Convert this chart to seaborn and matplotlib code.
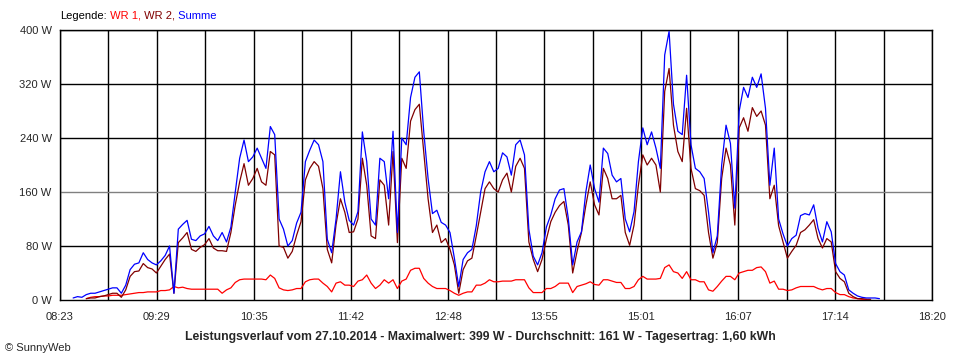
import numpy as np
import pandas as pd
import matplotlib
matplotlib.use("Agg")
import matplotlib.pyplot as plt
import seaborn as sns

# Messwerte im 3-Minuten-Raster, Minuten seit 08:23
minutes = np.arange(9, 562, 3)

summe = [3, 5, 4, 8, 10, 10, 12, 14, 16, 18, 18, 10, 22, 45, 53, 55, 70, 60, 55, 52,
         58, 66, 80, 10, 105, 112, 118, 90, 88, 95, 98,
         109, 95, 88, 100, 86, 108, 160, 210, 237, 205, 212, 225, 210, 195, 257, 245, 120, 105, 80, 88,
         114, 130, 205, 222, 237, 230, 205, 90, 70, 120, 190, 145, 118,
         111, 131, 249, 205, 120, 111, 210, 205, 150, 250, 100, 240, 230, 300, 330, 338, 250, 180, 128, 133,
         115, 111, 100, 62, 20, 60, 70, 75, 110, 160, 190, 205, 190,
         195, 218, 212, 185, 230, 237, 215, 105, 65, 52, 70, 108, 126, 150, 163, 165, 121, 52, 86, 101,
         160, 200, 165, 145, 225, 217, 185, 175, 180, 120, 101, 131, 205,
         255, 230, 249, 225, 195, 363, 398, 290, 250, 245, 333, 230, 195, 190, 180, 130, 70, 95, 200, 259,
         232, 136, 280, 315, 300, 330, 315, 335, 284, 170, 225, 120, 98,
         80, 91, 96, 125, 128, 126, 141, 106, 86, 116, 101, 54, 42, 37, 15, 10, 6, 4, 3, 3,
         3, 2]

wr2 = [np.nan, np.nan, np.nan, 2, 3, 3, 5, 6, 8, 10, 10, 4, 15, 35, 42, 43, 54, 48, 46, 40,
       50, 60, 68, 10, 85, 92, 100, 75, 72, 78, 82,
       91, 77, 73, 73, 72, 100, 141, 175, 202, 170, 180, 195, 175, 170, 220, 215, 80, 78, 62, 72,
       96, 116, 178, 195, 205, 198, 165, 75, 55, 112, 150, 130, 100,
       101, 120, 210, 170, 95, 91, 178, 170, 111, 220, 85, 210, 195, 265, 282, 290, 220, 150, 100, 111,
       85, 91, 75, 52, 10, 45, 58, 62, 95, 130, 165, 175, 165,
       160, 178, 188, 160, 198, 210, 195, 86, 60, 42, 60, 90, 116, 130, 140, 146, 111, 40, 72, 100,
       140, 175, 141, 126, 195, 180, 150, 150, 155, 100, 81, 111, 170,
       215, 200, 210, 200, 160, 309, 343, 259, 220, 205, 284, 195, 165, 162, 155, 100, 62, 85, 180, 225,
       200, 111, 255, 270, 250, 285, 272, 280, 259, 150, 170, 110, 86,
       62, 72, 81, 100, 104, 111, 119, 91, 77, 91, 86, 42, 32, 27, 10, 5, 2, 2, 1, 1,
       np.nan, np.nan]

wr1 = [np.nan, np.nan, np.nan, 2, 4, 5, 5, 6, 6, 7, 7, 7, 8, 9, 10, 11, 11, 12, 12, 12,
       14, 14, 15, 20, 18, 19, 17, 16, 16, 16, 16,
       16, 16, 16, 10, 15, 18, 26, 30, 31, 31, 31, 31, 31, 30, 37, 32, 18, 15, 14, 15,
       17, 17, 27, 30, 31, 31, 25, 20, 12, 25, 27, 22, 22,
       20, 28, 30, 37, 25, 17, 22, 30, 25, 30, 17, 28, 31, 44, 47, 47, 32, 25, 20, 17,
       17, 17, 14, 10, 7, 10, 12, 12, 22, 22, 25, 30, 27,
       27, 28, 28, 28, 30, 30, 30, 18, 11, 11, 11, 17, 17, 20, 25, 25, 25, 11, 20, 22,
       24, 27, 23, 22, 30, 30, 28, 26, 26, 17, 17, 20, 30,
       35, 31, 31, 31, 32, 48, 52, 42, 40, 32, 42, 30, 30, 27, 27, 15, 13, 20, 28, 35,
       35, 30, 40, 42, 44, 44, 48, 49, 42, 25, 28, 16, 16,
       14, 15, 18, 20, 20, 20, 20, 17, 15, 17, 17, 11, 8, 8, 5, 3, 2, 1, 1, np.nan,
       np.nan, np.nan]

x_labels = ["08:23", "09:29", "10:35", "11:42", "12:48", "13:55", "15:01", "16:07", "17:14", "18:20"]
day_span = 597  # 08:23 bis 18:20 in Minuten
y_ticks = [0, 80, 160, 240, 320, 400]

df = pd.DataFrame({"min": minutes, "WR 1": wr1, "WR 2": wr2, "Summe": summe})
long = df.melt(id_vars="min", var_name="serie", value_name="W")

sns.set_style("white")
plt.rcParams["font.family"] = ["Liberation Sans", "DejaVu Sans"]

fig = plt.figure(figsize=(9.6, 3.6), dpi=100)
ax = fig.add_axes([60 / 960, 60 / 360, 872 / 960, 270 / 360])

colors = {"WR 1": "#ff0000", "WR 2": "#800000", "Summe": "#0000ff"}
sns.lineplot(data=long, x="min", y="W", hue="serie", hue_order=["WR 1", "WR 2", "Summe"],
             palette=colors, linewidth=0.9, estimator=None,
             legend=False, ax=ax, zorder=3)

# Raster: senkrecht alle 1/18, beschriftet jede zweite Linie
x_pos = np.linspace(0, day_span, 19)
for xv in x_pos:
    ax.axvline(xv, color="black", lw=1.0, zorder=1)
for yv in y_ticks[1:]:
    ax.axhline(yv, color="#808080" if yv == 160 else "black", lw=1.0, zorder=1)

ax.set_xlim(0, day_span)
ax.set_ylim(0, 400)
ax.set_xticks(x_pos)
ax.set_xticklabels([x_labels[i // 2] if i % 2 == 0 else "" for i in range(len(x_pos))], fontsize=8)
ax.set_yticks(y_ticks)
ax.set_yticklabels([f"{v} W" for v in y_ticks], fontsize=8)
ax.tick_params(axis="both", direction="out", length=4, width=1.0, color="black", pad=2)
ax.tick_params(axis="x", pad=5)
ax.set_xlabel("")
ax.set_ylabel("")
for s in ax.spines.values():
    s.set_color("black")
    s.set_linewidth(1.0)

# Legende oben links als farbiger Text, Stück für Stück aneinandergehängt
prev = fig.text(60 / 960, 1 - 16 / 360, "Legende:", fontsize=8, va="center", color="black")
for txt, key in [(" WR 1,", "WR 1"), (" WR 2,", "WR 2"), (" Summe", "Summe")]:
    prev = ax.annotate(txt, xy=(1, 0), xycoords=prev, fontsize=8, color=colors[key],
                       va="bottom", ha="left", annotation_clip=False)

fig.text(0.5, 1 - 337 / 360,
         "Leistungsverlauf vom 27.10.2014 - Maximalwert: 399 W - Durchschnitt: 161 W - Tagesertrag: 1,60 kWh",
         fontsize=8.8, fontweight="bold", ha="center", va="center")
fig.text(5 / 960, 1 - 348 / 360, "© SunnyWeb", fontsize=8, ha="left", va="center")

fig.savefig("out.png", dpi=100)
